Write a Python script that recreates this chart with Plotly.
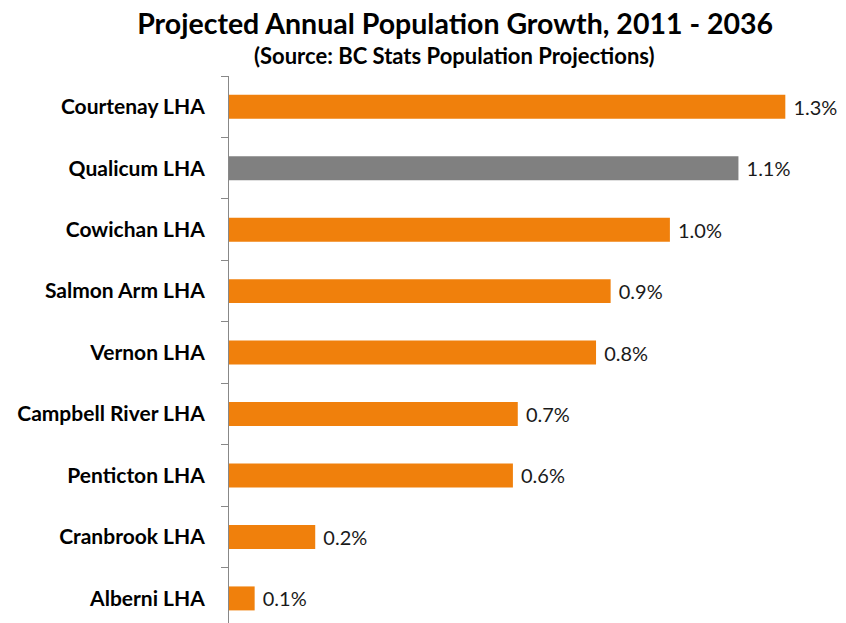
import plotly.graph_objects as go

# Données
regions = ["Courtenay LHA", "Qualicum LHA", "Cowichan LHA", "Salmon Arm LHA", "Vernon LHA",
           "Campbell River LHA", "Penticton LHA", "Cranbrook LHA", "Alberni LHA"]
growth = [1.258, 1.152, 0.997, 0.863, 0.830, 0.653, 0.642, 0.195, 0.058]
labels = ["1.3%", "1.1%", "1.0%", "0.9%", "0.8%", "0.7%", "0.6%", "0.2%", "0.1%"]
highlight = "Qualicum LHA"

ORANGE = "#F0800C"
GREY = "#808080"
FONT = "Lato"

colors = [GREY if r == highlight else ORANGE for r in regions]

fig = go.Figure()
fig.add_trace(go.Bar(
    x=growth,
    y=regions,
    orientation="h",
    marker_color=colors,
    marker_line_width=0,
    text=[" " + t for t in labels],
    textposition="outside",
    cliponaxis=False,
    textfont=dict(family=FONT, size=20, color="#1a1a1a"),
))

fig.update_layout(
    width=846,
    height=623,
    margin=dict(l=228.5, r=19.5, t=75.5, b=0, autoexpand=False),
    paper_bgcolor="white",
    plot_bgcolor="white",
    bargap=0.61,
    showlegend=False,
    title=dict(
        text="<b>Projected Annual Population Growth, 2011 - 2036</b>",
        font=dict(family=FONT, size=28.5, color="black"),
        x=0.538, xanchor="center",
        y=0.962, yanchor="middle",
    ),
    annotations=[dict(
        text="<b>(Source: BC Stats Population Projections)</b>",
        xref="paper", yref="paper",
        x=0.377, y=1.0374, xanchor="center", yanchor="middle",
        showarrow=False,
        font=dict(family=FONT, size=22, color="black"),
    )],
)

fig.update_xaxes(
    range=[0, 1.35],
    visible=False,
    fixedrange=True,
)
fig.update_yaxes(
    range=[8.4, -0.5],
    showline=True,
    linecolor="#888888",
    linewidth=1,
    ticks="outside",
    tickson="boundaries",
    ticklen=7,
    tickcolor="#888888",
    ticklabelstandoff=19,
    showgrid=False,
    tickfont=dict(family=FONT, size=21, color="black", weight="bold"),
    fixedrange=True,
)

# pas de marge autour de la page, pour que le graphique commence au coin
fig.write_html("out.html", config={"displayModeBar": False},
               post_script="document.body.style.margin='0';")
